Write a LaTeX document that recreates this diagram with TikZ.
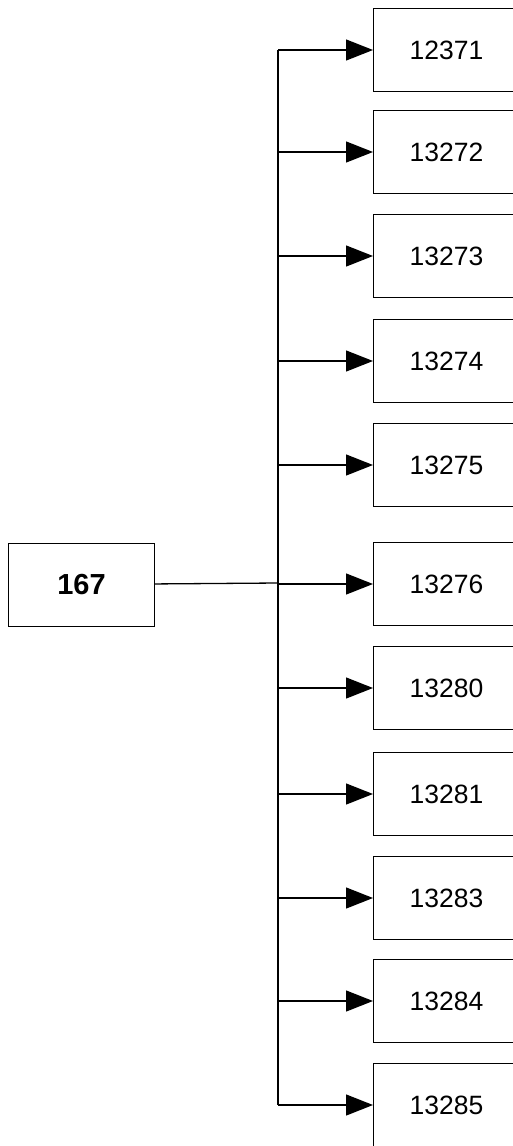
\documentclass[tikz,border=0pt]{standalone}
\usepackage{fontspec}
\setmainfont{Liberation Sans}
\usetikzlibrary{arrows.meta}

\tikzset{
	box/.style={draw, line width=0.9pt, minimum width=146pt, minimum height=83pt, inner sep=0pt, font=\fontsize{26.5}{30}\selectfont},
	link/.style={line width=1.3pt},
	bigtip/.style={-{Triangle[length=27pt,width=21pt]}}
}

\begin{document}
\begin{tikzpicture}[x=1pt,y=-1pt]
	\useasboundingbox (0,0) rectangle (513,1146);
	\node[box, font=\fontsize{29}{32}\selectfont\bfseries] (src) at (81.5,584.5) {167};
	\coordinate (top) at (278,50);
	\coordinate (bottom) at (278,1105);
	\coordinate (mid) at (278,583);
	\draw[link] (top) -- (bottom);
	\draw[link] (src) -- (mid);
	\foreach \y/\t [count=\i] in {50/12371, 152/13272, 256/13273, 361/13274, 465/13275, 584/13276, 688/13280, 794/13281, 898/13283, 1001/13284, 1105/13285} {
		\node[box, anchor=west] (b\i) at (373,\y) {\t};
		\coordinate (j\i) at (278,\y);
		\draw[link, bigtip] (j\i) -- (b\i.west);
	}
\end{tikzpicture}
\end{document}
